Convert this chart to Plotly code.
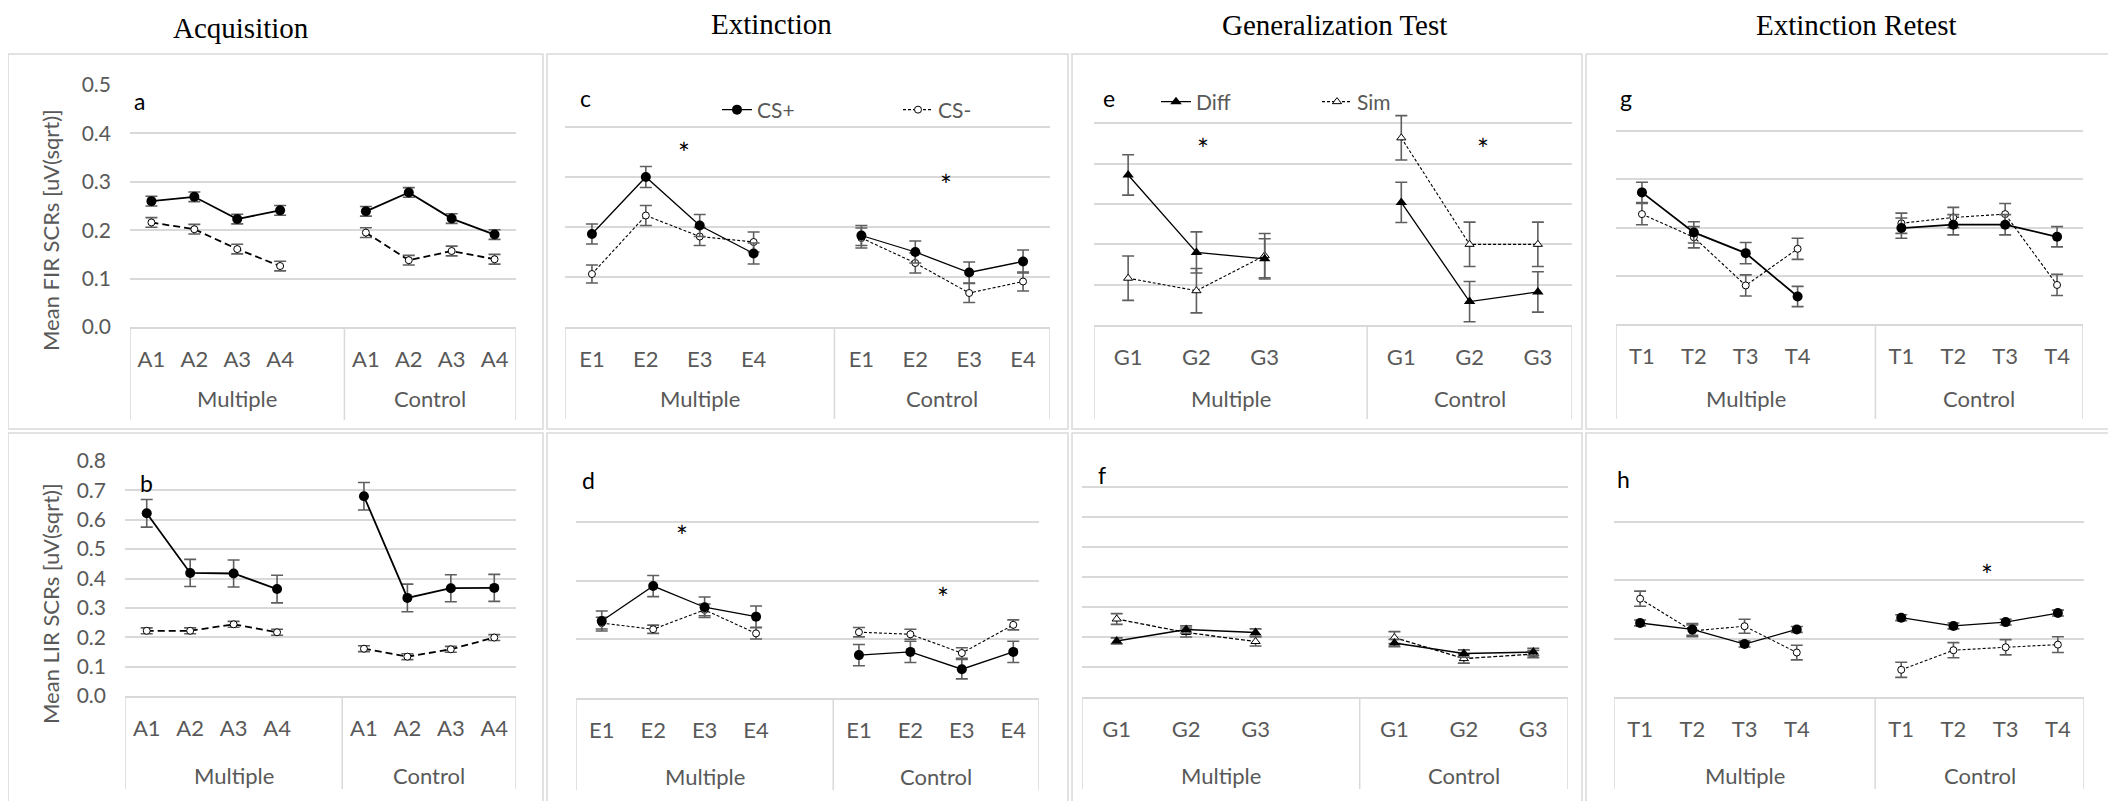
import plotly.graph_objects as go

W, H = 2116, 801
OFF = 8            # default page (body) margin of the browser
FW, FH = W - OFF, H - OFF

# ---------------- category labels ----------------
group_labels = ["Multiple", "Control"]
acq_labels = ["A1", "A2", "A3", "A4"]
ext_labels = ["E1", "E2", "E3", "E4"]
gen_labels = ["G1", "G2", "G3"]
ret_labels = ["T1", "T2", "T3", "T4"]

# ---------------- (a) FIR - Acquisition ----------------
a_csp_mult = [0.260, 0.269, 0.223, 0.241]
a_csp_ctrl = [0.239, 0.278, 0.224, 0.191]
a_csm_mult = [0.216, 0.202, 0.161, 0.126]
a_csm_ctrl = [0.195, 0.138, 0.157, 0.140]
a_csp_err = [0.010, 0.010, 0.010, 0.010, 0.010, 0.010, 0.010, 0.010]
a_csm_err = [0.010, 0.010, 0.010, 0.010, 0.010, 0.010, 0.010, 0.010]

# ---------------- (b) LIR - Acquisition ----------------
b_csp_mult = [0.622, 0.419, 0.417, 0.364]
b_csp_ctrl = [0.680, 0.334, 0.367, 0.368]
b_csm_mult = [0.222, 0.222, 0.244, 0.217]
b_csm_ctrl = [0.161, 0.134, 0.159, 0.199]
b_csp_err = [0.047, 0.046, 0.046, 0.047, 0.047, 0.047, 0.046, 0.046]
b_csm_err = [0.010, 0.010, 0.010, 0.010, 0.010, 0.010, 0.010, 0.010]

# ---------------- (c) FIR - Extinction ----------------
c_csp_mult = [0.186, 0.300, 0.203, 0.147]
c_csp_ctrl = [0.183, 0.150, 0.109, 0.131]
c_csm_mult = [0.106, 0.223, 0.181, 0.170]
c_csm_ctrl = [0.178, 0.128, 0.068, 0.091]
c_csp_err = [0.020, 0.021, 0.022, 0.021, 0.020, 0.022, 0.021, 0.023]
c_csm_err = [0.018, 0.020, 0.018, 0.020, 0.020, 0.020, 0.019, 0.019]

# ---------------- (d) LIR - Extinction ----------------
d_csp_mult = [0.262, 0.381, 0.309, 0.277]
d_csp_ctrl = [0.146, 0.157, 0.098, 0.157]
d_csm_mult = [0.255, 0.234, 0.300, 0.220]
d_csm_ctrl = [0.224, 0.217, 0.153, 0.249]
d_csp_err = [0.034, 0.036, 0.035, 0.036, 0.036, 0.036, 0.033, 0.036]
d_csm_err = [0.020, 0.014, 0.020, 0.019, 0.016, 0.017, 0.018, 0.017]

# ---------------- (e) FIR - Generalization Test ----------------
e_diff_mult = [0.372, 0.180, 0.164]
e_diff_ctrl = [0.304, 0.058, 0.082]
e_sim_mult = [0.116, 0.085, 0.172]
e_sim_ctrl = [0.464, 0.200, 0.200]
e_diff_err = [0.050, 0.051, 0.050, 0.050, 0.050, 0.050]
e_sim_err = [0.055, 0.055, 0.055, 0.055, 0.055, 0.055]

# ---------------- (f) LIR - Generalization Test ----------------
f_diff_mult = [0.187, 0.225, 0.215]
f_diff_ctrl = [0.180, 0.145, 0.150]
f_sim_mult = [0.260, 0.215, 0.185]
f_sim_ctrl = [0.198, 0.128, 0.143]
f_diff_err = [0.010, 0.012, 0.012, 0.012, 0.012, 0.012]
f_sim_err = [0.018, 0.015, 0.015, 0.020, 0.015, 0.012]

# ---------------- (g) FIR - Extinction Retest ----------------
g_csp_mult = [0.273, 0.190, 0.147, 0.057]
g_csp_ctrl = [0.199, 0.206, 0.206, 0.181]
g_csm_mult = [0.228, 0.180, 0.080, 0.156]
g_csm_ctrl = [0.209, 0.221, 0.228, 0.081]
g_csp_err = [0.021, 0.022, 0.022, 0.021, 0.021, 0.021, 0.021, 0.021]
g_csm_err = [0.022, 0.022, 0.022, 0.022, 0.021, 0.021, 0.022, 0.022]

# ---------------- (h) LIR - Extinction Retest ----------------
h_csp_mult = [0.253, 0.231, 0.181, 0.231]
h_csp_ctrl = [0.271, 0.243, 0.256, 0.287]
h_csm_mult = [0.336, 0.226, 0.242, 0.152]
h_csm_ctrl = [0.093, 0.160, 0.170, 0.179]
h_csp_err = [0.010, 0.020, 0.010, 0.010, 0.010, 0.010, 0.010, 0.010]
h_csm_err = [0.026, 0.020, 0.024, 0.025, 0.026, 0.026, 0.026, 0.027]

# ---------------- text ----------------
phase_titles = ["Acquisition", "Extinction", "Generalization Test", "Extinction Retest"]
panel_letters = ["a", "b", "c", "d", "e", "f", "g", "h"]
y_titles = ["Mean FIR SCRs [uV(sqrt)]", "Mean LIR SCRs [uV(sqrt)]"]
legend_cs = ["CS+", "CS-"]
legend_gen = ["Diff", "Sim"]

# ---------------- style ----------------
GRID = "#d9d9d9"
TXT = "#595959"
ERR = "#5f5f5f"
SANS = "Lato"
SERIF = "Liberation Serif"


def px(x):
    return (x - OFF) / FW


def py(y):
    return 1 - (y - OFF) / FH


def slots(cats):
    # one slot per category, plus an empty slot closing the first group
    return list(range(2 * len(cats) + 1))


def build_y(mult, ctrl):
    return list(mult) + [None] + list(ctrl)


def build_err(err):
    n = len(err) // 2
    return list(err[:n]) + [0] + list(err[n:])


# panel layout: plot box (x0, x1, ytop, ybottom) in pixels, bottom of category box
panels = [
    dict(cats=acq_labels, s1=(a_csp_mult, a_csp_ctrl, a_csp_err), s2=(a_csm_mult, a_csm_ctrl, a_csm_err),
         kind="cs", box=(130, 516, 85, 327), cat_bottom=420, grp_y=398,
         ymax=0.5, dtick=0.1, lw=1.8, dash="7px,4px", dw=1.8, ticks=True),
    dict(cats=acq_labels, s1=(b_csp_mult, b_csp_ctrl, b_csp_err), s2=(b_csm_mult, b_csm_ctrl, b_csm_err),
         kind="cs", box=(125, 516, 461, 696), cat_bottom=789, grp_y=775,
         ymax=0.8, dtick=0.1, lw=1.8, dash="7px,4px", dw=1.8, ticks=True),
    dict(cats=ext_labels, s1=(c_csp_mult, c_csp_ctrl, c_csp_err), s2=(c_csm_mult, c_csm_ctrl, c_csm_err),
         kind="cs", box=(565, 1050, 77, 327), cat_bottom=419, grp_y=398,
         ymax=0.5, dtick=0.1, lw=1.3, dash="3px,2px", dw=1.1, ticks=False),
    dict(cats=ext_labels, s1=(d_csp_mult, d_csp_ctrl, d_csp_err), s2=(d_csm_mult, d_csm_ctrl, d_csm_err),
         kind="cs", box=(576, 1039, 463, 698), cat_bottom=790, grp_y=776,
         ymax=0.8, dtick=0.2, lw=1.3, dash="3px,2px", dw=1.1, ticks=False),
    dict(cats=gen_labels, s1=(e_diff_mult, e_diff_ctrl, e_diff_err), s2=(e_sim_mult, e_sim_ctrl, e_sim_err),
         kind="gen", box=(1094, 1572, 83, 325), cat_bottom=419, grp_y=398,
         ymax=0.6, dtick=0.1, lw=1.3, dash="3px,2px", dw=1.1, ticks=False),
    dict(cats=gen_labels, s1=(f_diff_mult, f_diff_ctrl, f_diff_err), s2=(f_sim_mult, f_sim_ctrl, f_sim_err),
         kind="gen", box=(1082, 1568, 457, 697), cat_bottom=789, grp_y=775,
         ymax=0.8, dtick=0.1, lw=1.5, dash="4px,2px", dw=1.3, ticks=False),
    dict(cats=ret_labels, s1=(g_csp_mult, g_csp_ctrl, g_csp_err), s2=(g_csm_mult, g_csm_ctrl, g_csm_err),
         kind="cs", box=(1616, 2083, 83, 324), cat_bottom=419, grp_y=398,
         ymax=0.5, dtick=0.1, lw=1.8, dash="3px,2px", dw=1.1, ticks=False),
    dict(cats=ret_labels, s1=(h_csp_mult, h_csp_ctrl, h_csp_err), s2=(h_csm_mult, h_csm_ctrl, h_csm_err),
         kind="cs", box=(1614, 2084, 463, 697), cat_bottom=789, grp_y=775,
         ymax=0.8, dtick=0.2, lw=1.3, dash="3px,2px", dw=1.1, ticks=False),
]

fig = go.Figure()
layout = {}
shapes = []
ann = []

for i, p in enumerate(panels):
    n = i + 1
    xa = "x" if n == 1 else f"x{n}"
    ya = "y" if n == 1 else f"y{n}"
    xkey = "xaxis" if n == 1 else f"xaxis{n}"
    ykey = "yaxis" if n == 1 else f"yaxis{n}"
    x0, x1, yt, yb = p["box"]
    cats = p["cats"]
    k = len(cats)
    xs = slots(cats)
    tickvals = [s for s in xs if s != k]
    ticktext = list(cats) + list(cats)

    if p["kind"] == "cs":
        names = legend_cs
        sym = "circle"
        size1, size2 = 10, 7
    else:
        names = legend_gen
        sym = "triangle-up"
        size1, size2 = 10, 8

    legend_id = None
    if i == 2:
        legend_id = "legend"
    elif i == 4:
        legend_id = "legend2"

    m2, c2, e2 = p["s2"]
    m1, c1, e1 = p["s1"]
    # second series (open markers, dashed) drawn first so the filled one sits on top
    fig.add_trace(go.Scatter(
        x=xs, y=build_y(m2, c2), xaxis=xa, yaxis=ya, name=names[1],
        mode="lines+markers", connectgaps=False,
        line=dict(color="black", width=p["dw"], dash=p["dash"]),
        marker=dict(symbol=sym, size=size2, color="white", line=dict(color="black", width=1)),
        error_y=dict(type="data", array=build_err(e2), color=ERR, thickness=1.6, width=6),
        showlegend=legend_id is not None, legend=legend_id or "legend", legendrank=2,
    ))
    fig.add_trace(go.Scatter(
        x=xs, y=build_y(m1, c1), xaxis=xa, yaxis=ya, name=names[0],
        mode="lines+markers", connectgaps=False,
        line=dict(color="black", width=p["lw"]),
        marker=dict(symbol=sym, size=size1, color="black", line=dict(color="black", width=0)),
        error_y=dict(type="data", array=build_err(e1), color=ERR, thickness=1.6, width=6),
        showlegend=legend_id is not None, legend=legend_id or "legend", legendrank=1,
    ))

    layout[xkey] = dict(
        domain=[px(x0), px(x1)], anchor=ya, range=[-0.5, 2 * k + 0.5],
        tickvals=tickvals, ticktext=ticktext, ticks="", ticklabelstandoff=12,
        showline=True, linecolor=GRID, linewidth=1.5, showgrid=False, zeroline=False,
        tickfont=dict(family=SANS, size=22, color=TXT), fixedrange=True,
    )
    layout[ykey] = dict(
        domain=[py(yb), py(yt)], anchor=xa, range=[0, p["ymax"]], dtick=p["dtick"],
        showgrid=True, gridcolor=GRID, gridwidth=1.5, zeroline=False, showline=False,
        showticklabels=p["ticks"], tickformat=".1f", ticks="",
        ticklabelstandoff=18,
        tickfont=dict(family=SANS, size=21, color=TXT), fixedrange=True,
    )

    # category box: dividers at both ends of each group
    for b in [-0.5, k + 0.5, 2 * k + 0.5]:
        shapes.append(dict(type="line", xref=xa, yref="paper", x0=b, x1=b,
                           y0=py(p["cat_bottom"]), y1=py(yb),
                           line=dict(color=GRID, width=1.5)))
    # group labels centred under each group
    centers = [k / 2, (k + 1 + 2 * k) / 2]
    for g, cx in zip(group_labels, centers):
        ann.append(dict(text=g, x=cx, y=py(p["grp_y"]), xref=xa, yref="paper", showarrow=False,
                        xanchor="center", yanchor="middle", font=dict(family=SANS, size=22, color=TXT)))

fig.update_layout(**layout)

# ---------------- panel frames ----------------
cols = [(8, 543), (547, 1068), (1072, 1582), (1586, 2112)]
rows = [(54, 429), (433, 806)]
for (cx0, cx1) in cols:
    for (ry0, ry1) in rows:
        shapes.append(dict(type="rect", xref="paper", yref="paper",
                           x0=px(cx0), x1=px(cx1), y0=py(ry1), y1=py(ry0),
                           line=dict(color=GRID, width=1.5), fillcolor="rgba(0,0,0,0)", layer="below"))

# ---------------- annotations ----------------
title_pos = [(241, 28), (771, 24), (1334, 25), (1856, 25)]
for t, (tx, ty) in zip(phase_titles, title_pos):
    ann.append(dict(text=t, x=px(tx), y=py(ty), xref="paper", yref="paper", showarrow=False,
                    xanchor="center", yanchor="middle", font=dict(family=SERIF, size=29, color="black")))

letter_pos = [(132, 101), (138, 483), (578, 98), (580, 480), (1101, 98), (1096, 475), (1618, 98), (1615, 479)]
for t, (lx, ly) in zip(panel_letters, letter_pos):
    ann.append(dict(text=t, x=px(lx), y=py(ly), xref="paper", yref="paper", showarrow=False,
                    xanchor="left", yanchor="middle", font=dict(family=SANS, size=23, color="black")))

ytitle_pos = [(50, 230), (50, 604)]
for t, (tx, ty) in zip(y_titles, ytitle_pos):
    ann.append(dict(text=t, x=px(tx), y=py(ty), xref="paper", yref="paper", showarrow=False,
                    textangle=-90, xanchor="center", yanchor="middle",
                    font=dict(family=SANS, size=22, color=TXT)))

star_pos = [(684, 153), (946, 185), (682, 536), (943, 598), (1203, 149), (1483, 149), (1987, 575)]
for (sx, sy) in star_pos:
    ann.append(dict(text="*", x=px(sx), y=py(sy), xref="paper", yref="paper", showarrow=False,
                    xanchor="center", yanchor="middle", font=dict(family=SANS, size=28, color="black")))

fig.update_layout(
    width=FW, height=FH, margin=dict(l=0, r=0, t=0, b=0, autoexpand=False),
    paper_bgcolor="white", plot_bgcolor="white",
    shapes=shapes, annotations=ann,
    legend=dict(x=px(717), y=py(110), xanchor="left", yanchor="middle", orientation="h",
                entrywidth=136, entrywidthmode="pixels", bgcolor="rgba(0,0,0,0)",
                font=dict(family=SANS, size=21, color=TXT), traceorder="normal"),
    legend2=dict(x=px(1156), y=py(102), xanchor="left", yanchor="middle", orientation="h",
                 entrywidth=116, entrywidthmode="pixels", bgcolor="rgba(0,0,0,0)",
                 font=dict(family=SANS, size=21, color=TXT), traceorder="normal"),
)

fig.write_html("out.html")
